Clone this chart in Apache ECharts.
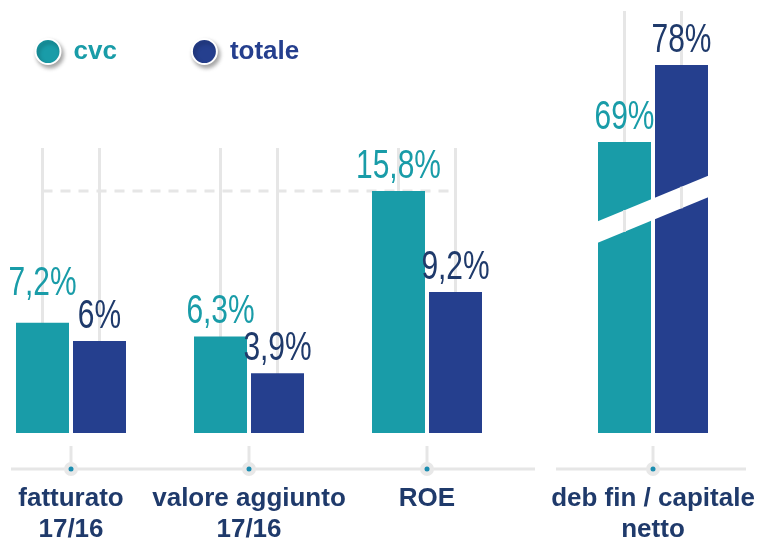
<!DOCTYPE html>
<html>
<head>
<meta charset="utf-8">
<script src="https://cdn.jsdelivr.net/npm/echarts@6/dist/echarts.min.js"></script>
<style>
html, body { margin: 0; padding: 0; background: #fff; }
#main { width: 766px; height: 541px; }
</style>
</head>
<body>
<div id="main"></div>
<script>
// dati
var categories = ['fatturato\n17/16', 'valore aggiunto\n17/16', 'ROE'];
var categoriesDebt = ['deb fin / capitale\nnetto'];
var seriesNames = ['cvc', 'totale'];
var cvcValues = [7.2, 6.3, 15.8];
var totaleValues = [6, 3.9, 9.2];
var cvcDebt = [69];
var totaleDebt = [78];

var TEAL = '#199ca8', NAVY = '#253f8e', NAVY_TEXT = '#1f3a6b', GRID = '#e6e6e6';
var BAR_W = 53, BAR_GAP = 4;
var MAX_A = 18.6, MIN_B = 35, MAX_B = 84.3;
var sans = '"Liberation Sans", Arial, sans-serif';

function fmt(v) {
    return String(v).replace('.', ',') + '%';
}

function barSeries(name, data, idx, color) {
    return {
        name: name,
        type: 'bar',
        xAxisIndex: idx,
        yAxisIndex: idx,
        barWidth: BAR_W,
        barGap: (BAR_GAP / BAR_W * 100) + '%',
        itemStyle: { color: color },
        clip: idx === 1,
        z: 2,
        data: data
    };
}

function xAxisFor(idx, data, gap) {
    return {
        type: 'category',
        gridIndex: idx,
        data: data,
        boundaryGap: gap,
        offset: 36,
        axisLine: { show: false },
        axisTick: { show: false },
        axisLabel: {
            interval: 0,
            margin: 14,
            color: NAVY_TEXT,
            fontFamily: sans,
            fontWeight: 'bold',
            fontSize: 26,
            lineHeight: 31
        },
        splitLine: { show: false }
    };
}

var chart = echarts.init(document.getElementById('main'));
var option = {
    animation: false,
    backgroundColor: '#fff',
    legend: {
        left: 29.5,
        top: 33,
        itemWidth: 41,
        itemHeight: 25,
        itemGap: 74,
        icon: 'circle',
        itemStyle: {
            borderColor: '#fff',
            borderWidth: 2,
            shadowBlur: 4,
            shadowColor: 'rgba(0,0,0,0.35)',
            shadowOffsetX: 2,
            shadowOffsetY: 3
        },
        textStyle: { fontFamily: sans, fontWeight: 'bold', fontSize: 26 },
        data: [
            { name: seriesNames[0], textStyle: { color: TEAL } },
            { name: seriesNames[1], textStyle: { color: NAVY } }
        ]
    },
    grid: [
        { left: 71, width: 356, top: 148, bottom: 108, outerBoundsMode: 'none' },
        { left: 564, width: 178, top: 11, bottom: 108, outerBoundsMode: 'none' }
    ],
    xAxis: [xAxisFor(0, categories, false), xAxisFor(1, categoriesDebt, true)],
    yAxis: [
        { type: 'value', gridIndex: 0, min: 0, max: MAX_A, show: false },
        { type: 'value', gridIndex: 1, min: MIN_B, max: MAX_B, show: false }
    ],
    series: [
        barSeries(seriesNames[0], cvcValues, 0, TEAL),
        barSeries(seriesNames[1], totaleValues, 0, NAVY),
        barSeries(seriesNames[0], cvcDebt, 1, TEAL),
        barSeries(seriesNames[1], totaleDebt, 1, NAVY)
    ]
};
chart.setOption(option);

// linee di sfondo, etichette, asse e interruzione calcolate dalle scale
function px(idx, cat, val) {
    return chart.convertToPixel({ xAxisIndex: idx, yAxisIndex: idx }, [cat, val]);
}
var off = (BAR_W + BAR_GAP) / 2;
var els = [];
function vline(x, y1, y2, z) {
    els.push({ type: 'line', z: z, shape: { x1: x, y1: y1, x2: x, y2: y2 }, style: { stroke: GRID, lineWidth: 3 } });
}

var topA = px(0, 0, MAX_A)[1], baseA = px(0, 0, 0)[1];
categories.forEach(function (c, i) {
    var cx = px(0, i, 0)[0];
    vline(cx - off, topA, baseA, 0);
    vline(cx + off, topA, baseA, 0);
});
var topB = px(1, 0, MAX_B)[1], baseB = px(1, 0, MIN_B)[1];
var cB = px(1, 0, MIN_B)[0];
vline(cB - off, topB, baseB, 0);
vline(cB + off, topB, baseB, 0);

// tratteggio al livello del ROE cvc
var yR = px(0, 2, cvcValues[2])[1];
els.push({
    type: 'line', z: 0,
    shape: { x1: px(0, 0, 0)[0] - off, y1: yR, x2: px(0, 2, 0)[0] + off, y2: yR },
    style: { stroke: GRID, lineWidth: 3, lineDash: [10, 8] }
});

// etichette dei valori, carattere stretto
function valueText(idx, cat, v, side, color, lift) {
    var p = px(idx, cat, v);
    els.push({
        type: 'text', z: 30,
        x: p[0] + side * off, y: p[1] - 4 - (lift || 0),
        scaleX: 0.73,
        style: {
            text: fmt(v), x: 0, y: 0, fill: color,
            font: '41px "Liberation Sans", Arial, sans-serif',
            align: 'center', verticalAlign: 'bottom'
        }
    });
}
cvcValues.forEach(function (v, i) { valueText(0, i, v, -1, TEAL, i === 0 ? 14 : 0); });
totaleValues.forEach(function (v, i) { valueText(0, i, v, 1, NAVY_TEXT); });
cvcDebt.forEach(function (v, i) { valueText(1, i, v, -1, TEAL); });
totaleDebt.forEach(function (v, i) { valueText(1, i, v, 1, NAVY_TEXT); });

// linea di base con segni e pallini sulle categorie
var yAxisLine = baseA + 36;
var c0 = px(0, 0, 0)[0], c2 = px(0, 2, 0)[0];
[[c0 - 60, c2 + 108], [cB - 97, cB + 93]].forEach(function (s) {
    els.push({ type: 'line', z: 3, shape: { x1: s[0], y1: yAxisLine, x2: s[1], y2: yAxisLine }, style: { stroke: GRID, lineWidth: 3 } });
});
var centers = categories.map(function (c, i) { return px(0, i, 0)[0]; }).concat([cB]);
centers.forEach(function (x) {
    vline(x, yAxisLine - 23, yAxisLine, 3);
    els.push({ type: 'circle', z: 4, shape: { cx: x, cy: yAxisLine, r: 7 }, style: { fill: '#e8e8e8' } });
    els.push({ type: 'circle', z: 5, shape: { cx: x, cy: yAxisLine, r: 2.5 }, style: { fill: '#1b8db0' } });
});

// interruzione obliqua sulle barre del debito
var xl = cB - 57, xr = cB + 57;
var topL = 222, topR = 175, gapH = 21.5;
els.push({
    type: 'polygon', z: 20,
    shape: { points: [[xl, topL], [xr, topR], [xr, topR + gapH], [xl, topL + gapH]] },
    style: { fill: '#fff' }
});
[cB - off, cB + off].forEach(function (x) {
    var t = topL + (x - xl) * (topR - topL) / (xr - xl);
    vline(x, t, t + gapH, 21);
});

chart.setOption({ graphic: { elements: els } });
</script>
</body>
</html>
